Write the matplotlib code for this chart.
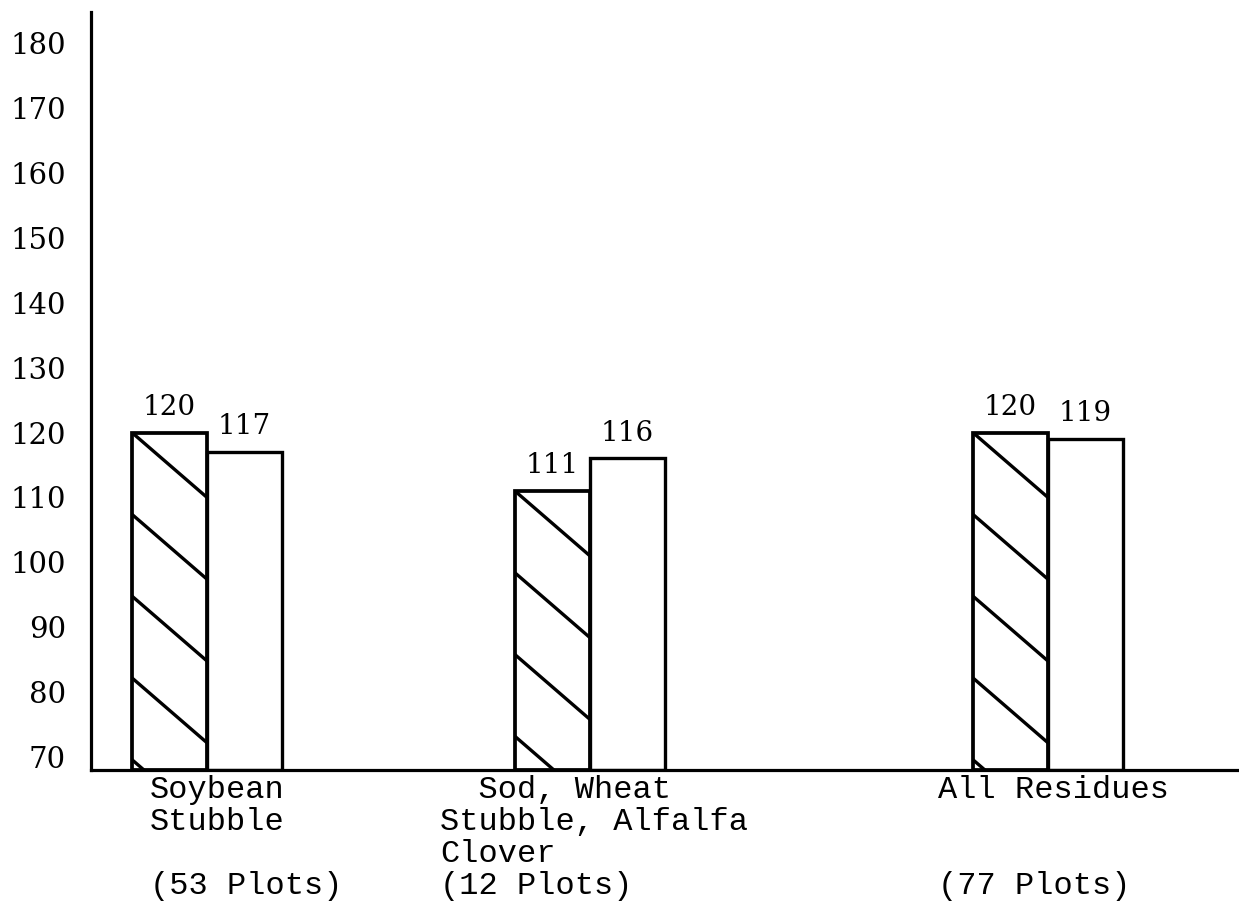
import matplotlib.pyplot as plt

# data
categories = ['Soybean\nStubble\n\n(53 Plots)',
              '  Sod, Wheat\nStubble, Alfalfa\nClover\n(12 Plots)',
              'All Residues\n\n\n(77 Plots)']
hatched_vals = [120, 111, 120]
open_vals = [117, 116, 119]
yticks = list(range(70, 190, 10))

# layout (uneven group spacing as in the original)
group_x = [0, 1, 2.196]
label_dx = [-0.149, -0.392, -0.287]
width = 0.196
base = 68

fig = plt.figure(figsize=(12.39, 9.01), dpi=100)
ax = fig.add_axes([0.0734, 0.1454, 0.9266, 0.8413])

hx = [g - width / 2 for g in group_x]
ox = [g + width / 2 for g in group_x]
hbars = ax.bar(hx, [v - base for v in hatched_vals], width, bottom=base,
               facecolor='white', edgecolor='black', linewidth=2.7)
obars = ax.bar(ox, [v - base for v in open_vals], width, bottom=base,
               facecolor='white', edgecolor='black', linewidth=2.4)

ax.set_xlim(-0.303, 2.695)
ax.set_ylim(base, 184.8)

# sparse hand-drawn style diagonal hatching, clipped to each bar
step = 12.6
drop = 10.0
for rect in hbars:
    x0 = rect.get_x()
    w = rect.get_width()
    top = rect.get_y() + rect.get_height()
    y = top
    while y > base - drop:
        ln, = ax.plot([x0, x0 + w], [y, y - drop], color='black', lw=2.4,
                      solid_capstyle='butt')
        ln.set_clip_path(rect)
        y -= step

# value labels
for bars, vals in [(hbars, hatched_vals), (obars, open_vals)]:
    for rect, v in zip(bars, vals):
        ax.text(rect.get_x() + rect.get_width() / 2, v + 1.8, str(v),
                ha='center', va='bottom', fontsize=20, family='DejaVu Serif')

# category labels under the axis
for g, dx, lab in zip(group_x, label_dx, categories):
    ax.text(g + dx, -0.006, lab, transform=ax.get_xaxis_transform(),
            ha='left', va='top', fontsize=23, family='Liberation Mono',
            linespacing=1.1)

ax.set_yticks(yticks)
ax.set_yticklabels([str(t) for t in yticks], fontsize=21, family='DejaVu Serif')
ax.set_xticks([])
ax.tick_params(axis='y', length=0, pad=18)
ax.spines['top'].set_visible(False)
ax.spines['right'].set_visible(False)
ax.spines['left'].set_linewidth(2.3)
ax.spines['bottom'].set_linewidth(2.3)

fig.savefig('out.png', dpi=100)
